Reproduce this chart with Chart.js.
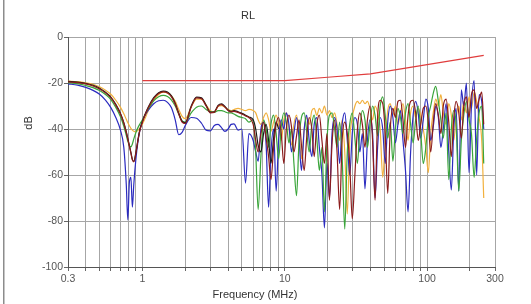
<!DOCTYPE html>
<html>
<head>
<meta charset="utf-8">
<script src="https://cdn.jsdelivr.net/npm/chart.js@4.4.0/dist/chart.umd.min.js"></script>
<style>
  html, body { margin: 0; padding: 0; background: #fff; }
  #wrap { width: 531px; height: 304px; position: relative; }
</style>
</head>
<body>
<div id="wrap"><canvas id="rl" width="531" height="304"></canvas></div>
<script>
// texts
const titleText = 'RL';
const xTitle = 'Frequency (MHz)';
const yTitle = 'dB';

// x grid lines and the labelled ones
const xGrid = [0.3, 0.4, 0.5, 0.6, 0.7, 0.8, 0.9, 1, 2, 3, 4, 5, 6, 7, 8, 9, 10,
  20, 30, 40, 50, 60, 70, 80, 90, 100, 200, 300];
const xLabels = [0.3, 1, 10, 100, 300];

// limit line
const limitFreqs = [1, 10, 20, 40, 100, 250];
const limitDb = [-19, -19, -17.5, -16, -12, -8];

// smooth low band (MHz)
const freqLow = [0.3, 0.35, 0.4, 0.45, 0.5, 0.55, 0.6, 0.65, 0.7, 0.74,
  0.77, 0.79, 0.81, 0.83, 0.85, 0.87, 0.9, 0.93, 0.96, 1.0,
  1.05, 1.1, 1.2, 1.3, 1.4, 1.5, 1.6, 1.7, 1.8, 1.9,
  2.0, 2.2, 2.4, 2.6, 2.8, 3.0, 3.2, 3.4, 3.6, 3.8,
  4.0, 4.2, 4.4, 4.7, 5.0, 5.3, 5.6];

// noisy high band (MHz)
const freqHigh = [6.0, 6.25, 6.5, 6.8, 7.1, 7.4, 7.7, 8.0, 8.35, 8.7,
  9.05, 9.45, 9.85, 10.25, 10.7, 11.15, 11.6, 12.1, 12.6, 13.1,
  13.7, 14.25, 14.85, 15.5, 16.1, 16.8, 17.5, 18.25, 19.0, 19.8,
  20.6, 21.5, 22.4, 23.3, 24.3, 25.3, 26.4, 27.5, 28.6, 29.8,
  31.1, 32.4, 33.7, 35.1, 36.6, 38.1, 39.7, 41.4, 43.1, 44.9,
  46.8, 48.8, 50.8, 52.9, 55.1, 57.5, 59.9, 62.4, 65.0, 67.7,
  70.5, 73.5, 76.6, 79.8, 83.1, 86.6, 90.2, 94.0, 98.0, 102,
  106, 111, 115, 120, 125, 130, 136, 142, 148, 154,
  160, 167, 174, 181, 189, 197, 205, 214, 223, 232,
  242, 250];

const orangeLow = [-19.2, -19.4, -19.9, -20.6, -21.7, -23.1, -24.9, -27.5, -30.5, -33.4,
  -35.8, -37.3, -38.6, -39.7, -40.5, -41.0, -41.2, -40.6, -39.6, -37.8,
  -35.0, -32.0, -27.5, -25.0, -24.0, -24.3, -25.6, -28.0, -31.5, -34.5,
  -35.5, -30.5, -27.0, -27.0, -29.5, -32.0, -32.5, -30.2, -29.8, -30.5,
  -31.5, -32.0, -31.5, -31.0, -31.5, -32.0, -31.5];
const orangeHigh = [-32, -33, -36, -38, -35, -33, -36, -41, -37, -34,
  -38, -45, -36, -33, -40, -47, -38, -34, -42, -53,
  -40, -35, -38, -32, -31, -34, -31, -33, -30, -34,
  -32, -35, -33, -38, -45, -36, -50, -77, -45, -35,
  -30, -28, -29, -27.5, -29, -28, -31, -36, -30, -33,
  -40, -61, -45, -32, -29, -34, -30, -38, -33, -29,
  -36, -45, -33, -30, -35, -31, -34, -40, -48, -59,
  -42, -32, -27, -30, -25, -33, -38, -29, -34, -45,
  -35, -30, -36, -28, -33, -26, -31, -24, -28, -35,
  -45, -70];

const maroonLow = [-19.5, -19.8, -20.4, -21.3, -22.6, -24.3, -26.4, -29.6, -33.4, -37.5,
  -41.5, -44.5, -47.5, -50.5, -53.4, -54.3, -50.5, -45.0, -40.6, -37.0,
  -33.5, -30.8, -26.8, -24.6, -23.9, -24.3, -26.0, -29.2, -33.5, -37.0,
  -37.6, -30.5, -26.5, -26.8, -30.0, -33.0, -32.8, -30.0, -29.4, -30.5,
  -32.0, -32.6, -32.3, -32.8, -33.5, -34.3, -35.0];
const maroonHigh = [-38, -45, -50, -42, -37, -44, -52, -62, -48, -38,
  -35, -42, -55, -40, -34, -39, -50, -43, -36, -47,
  -58, -44, -35, -40, -52, -38, -34, -45, -55, -42,
  -71, -46, -36, -50, -75, -45, -37, -42, -55, -79,
  -60, -40, -33, -38, -48, -36, -30, -45, -71, -35,
  -27.5, -29, -42, -68, -40, -31, -35, -28, -27.5, -36,
  -48, -34, -28, -27.5, -33, -45, -38, -31, -30, -37,
  -50, -36, -29, -34, -42, -30, -27, -37, -52, -35,
  -28, -33, -44, -30, -26, -35, -25, -23, -31, -27,
  -24, -38];

const blackLow = [-19.3, -19.6, -20.2, -21.0, -22.3, -24.0, -26.1, -29.3, -33.1, -37.2,
  -41.2, -44.2, -47.2, -50.2, -53.2, -54.1, -50.2, -44.7, -40.3, -36.7,
  -33.2, -30.4, -26.4, -24.2, -23.5, -23.9, -25.6, -28.8, -33.1, -36.7,
  -37.3, -30.1, -26.1, -26.4, -29.6, -32.7, -32.5, -29.7, -29.1, -30.2,
  -31.7, -32.3, -32.0, -32.5, -33.2, -34.0, -34.8];
const blackHigh = [-36, -40, -47, -50, -42, -38, -45, -55, -44, -37, -40];

const greenLow = [-19.8, -20.3, -21.1, -22.0, -23.3, -25.0, -27.2, -30.6, -34.6, -38.8,
  -42.8, -45.4, -47.2, -47.8, -46.5, -44.3, -41.5, -39.4, -37.8, -36.0,
  -33.4, -31.2, -27.8, -26.0, -25.4, -25.9, -27.4, -30.0, -33.5, -36.5,
  -37.0, -33.0, -30.5, -30.0, -31.5, -32.5, -32.8, -32.0, -32.0, -32.5,
  -33.0, -33.0, -33.5, -34.5, -35.0, -35.5, -37.0];
const greenHigh = [-36, -50, -75, -52, -36, -40, -48, -38, -34, -42,
  -53, -39, -33, -37, -46, -40, -55, -69, -45, -35,
  -33, -41, -50, -38, -34, -44, -58, -48, -76, -45,
  -34, -33, -40, -48, -37, -52, -83.5, -50, -38, -33,
  -44, -55, -40, -32, -36, -48, -38, -30, -34, -43,
  -30, -26, -34, -44, -37, -54, -40, -31, -35, -42,
  -33, -29, -38, -46, -36, -30, -41, -55, -48, -35,
  -30, -24, -21.5, -28, -36, -44, -33, -62, -40, -32,
  -38, -67, -45, -34, -28, -36, -42, -61, -44, -33,
  -30, -55];

const blueLow = [-20.4, -20.9, -21.9, -23.2, -24.9, -27.4, -30.7, -35.0, -40.4, -48.0,
  -64.0, -79.5, -63.0, -61.0, -74.0, -64.0, -53.0, -45.5, -40.5, -36.5,
  -33.8, -31.8, -29.0, -27.7, -27.5, -28.4, -30.8, -36.0, -42.5, -41.5,
  -38.5, -35.0, -35.3, -37.5, -40.5, -40.8, -38.5, -38.0, -39.5, -41.0,
  -40.0, -38.0, -37.8, -40.5, -40.0, -63.5, -42.0];
const blueHigh = [-45, -50, -54, -40, -37, -47, -74, -50, -40, -67,
  -45, -36, -40, -33, -38, -50, -42, -35, -44, -58,
  -40, -34, -45, -52, -38, -35, -48, -60, -83, -55,
  -70, -42, -35, -40, -55, -38, -33, -45, -60, -42,
  -35, -38, -50, -42, -66, -45, -36, -42, -70, -48,
  -35, -40, -55, -37, -30, -35, -46, -38, -32, -45,
  -58, -76, -50, -34, -28, -33, -44, -36, -27, -31,
  -45, -38, -30, -35, -48, -40, -29, -50, -66.5, -40,
  -31, -67, -23, -30, -20, -59, -30, -19, -60, -25,
  -28, -40];

const freqs = freqLow.concat(freqHigh);

function toPoints(low, high) {
  return low.concat(high).map((v, i) => ({ x: freqs[i], y: v }));
}

function trace(label, color, low, high) {
  return {
    label: label,
    data: toPoints(low, high),
    borderColor: color,
    borderWidth: 1.2,
    pointRadius: 0,
    fill: false,
    cubicInterpolationMode: 'monotone'
  };
}

const tickFont = { family: '"Liberation Sans", Arial, sans-serif', size: 10.5 };

// titles and the left frame line
const frame = {
  id: 'frame',
  afterDraw(chart) {
    const ctx = chart.ctx;
    ctx.save();
    ctx.fillStyle = '#8c8c8c';
    ctx.fillRect(3, 0, 1.5, chart.height);
    ctx.fillStyle = '#333';
    ctx.textAlign = 'center';
    ctx.textBaseline = 'middle';
    ctx.font = '11px "Liberation Sans", Arial, sans-serif';
    ctx.fillText(titleText, 248, 16);
    ctx.fillText(xTitle, 255, 295);
    ctx.translate(29, 123);
    ctx.rotate(-Math.PI / 2);
    ctx.fillText(yTitle, 0, 0);
    ctx.restore();
  }
};

new Chart(document.getElementById('rl'), {
  type: 'line',
  data: {
    datasets: [
      {
        label: 'Limit',
        data: limitFreqs.map((f, i) => ({ x: f, y: limitDb[i] })),
        borderColor: '#e03c3c',
        borderWidth: 1.2,
        pointRadius: 0,
        fill: false,
        tension: 0
      },
      trace('Pair 2', '#8c1c1c', maroonLow, maroonHigh),
      trace('Pair 3', '#1a1a1a', blackLow, blackHigh),
      trace('Pair 4', '#3aa53a', greenLow, greenHigh),
      trace('Pair 5', '#2b2bbf', blueLow, blueHigh),
      trace('Pair 1', '#f2b13e', orangeLow, orangeHigh)
    ]
  },
  options: {
    responsive: false,
    animation: false,
    layout: { padding: { top: 37, right: 36, bottom: 0, left: 0 } },
    plugins: {
      legend: { display: false },
      tooltip: { enabled: false },
      title: { display: false }
    },
    scales: {
      x: {
        type: 'logarithmic',
        min: 0.3,
        max: 300,
        afterBuildTicks(scale) {
          scale.ticks = xGrid.map(v => ({ value: v }));
        },
        afterFit(scale) { scale.height = 37; },
        ticks: {
          autoSkip: false,
          maxRotation: 0,
          padding: 2,
          color: '#555',
          font: tickFont,
          callback: v => xLabels.includes(v) ? String(v) : ''
        },
        grid: { color: '#a6a6a6', lineWidth: 1, tickColor: '#666', tickLength: 4 },
        border: { color: '#555' }
      },
      y: {
        min: -100,
        max: 0,
        afterFit(scale) { scale.width = 68; },
        ticks: { stepSize: 20, padding: 1, color: '#555', font: tickFont },
        grid: { color: '#a6a6a6', lineWidth: 1, tickColor: '#666', tickLength: 4 },
        border: { color: '#555' }
      }
    }
  },
  plugins: [frame]
});
</script>
</body>
</html>
